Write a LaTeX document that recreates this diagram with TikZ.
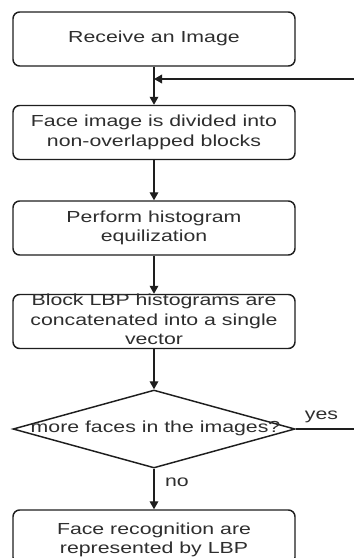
\documentclass[tikz,border=0pt]{standalone}
\usepackage{fontspec}
\setmainfont{Liberation Sans}
\usepackage{graphicx}
\usetikzlibrary{shapes.geometric,arrows.meta}

\definecolor{linegray}{HTML}{1E1E1E}
\definecolor{txtgray}{HTML}{2E2E2E}

% wide sans text, centred lines
\newcommand{\widetext}[1]{\scalebox{1.33}[1]{\begin{tabular}{@{}c@{}}#1\end{tabular}}}

\tikzset{
  stepbox/.style={draw=linegray, line width=1.1pt, rounded corners=5pt,
    minimum width=211.5pt, minimum height=40.5pt, inner sep=0pt, fill=white},
  decision/.style={draw=linegray, line width=1.1pt, diamond, inner sep=0pt,
    minimum width=211.5pt, minimum height=58.5pt},
  label/.style={text=txtgray, font=\fontsize{12}{14.6}\selectfont, inner sep=0pt},
  flow/.style={draw=linegray, line width=1pt, -{Triangle[length=6pt,width=6.5pt]}},
  plainline/.style={draw=linegray, line width=1pt}
}

\begin{document}
\begin{tikzpicture}[x=0.75pt, y=-0.75pt]
  \useasboundingbox (0,0) rectangle (354,558);

  % process boxes and the decision
  \node[stepbox] (b1) at (154,39) {};
  \node[stepbox] (b2) at (154,132.5) {};
  \node[stepbox] (b3) at (154,228) {};
  \node[stepbox] (b4) at (154,321.5) {};
  \node[decision] (d) at (154,429) {};
  \node[stepbox] (b5) at (154,537) {};

  % texts
  \node[label] (t1) at (b1) {\widetext{Receive an Image}};
  \node[label] (t2) at (b2) {\widetext{Face image is divided into\\non-overlapped blocks}};
  \node[label] (t3) at (b3) {\widetext{Perform histogram\\equilization}};
  \node[label] (t4) at (b4) {\widetext{Block LBP histograms are\\concatenated into a single\\vector}};
  \node[label] (td) at (155.5,429) {\widetext{more faces in the images?}};
  \node[label] (t5) at (154,540) {\widetext{Face recognition are\\represented by LBP}};

  % branch labels
  \node[label] (yes) at (321.5,416) {\widetext{yes}};
  \node[label] (no) at (177,483) {\widetext{no}};

  % junction of the loop-back line
  \coordinate (j) at (154,79);
  \coordinate (farright) at (362,0);

  % main flow
  \draw[flow] (b1) -- (b2);
  \draw[flow] (b2) -- (b3);
  \draw[flow] (b3) -- (b4);
  \draw[flow] (b4) -- (d);
  \draw[flow] (d) -- (b5);

  % loop back for further faces
  \draw[plainline] (d.east) -- (farright |- d.east) -- (farright |- j);
  \draw[flow] (farright |- j) -- (j);
\end{tikzpicture}
\end{document}
